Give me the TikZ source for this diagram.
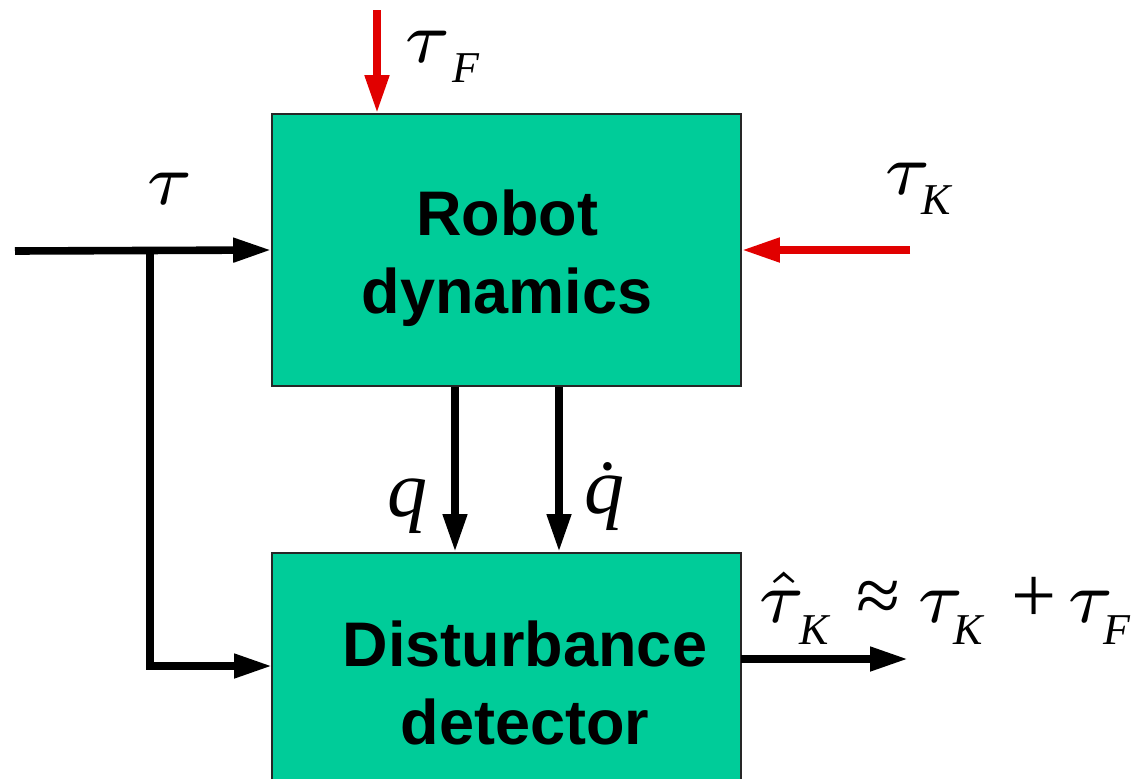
\documentclass[tikz,border=0pt]{standalone}
\usepackage{graphicx}
\usepackage{fontspec}
\setmainfont{Liberation Serif}
\newfontfamily\sansbold{Liberation Sans}[BoldFont={Liberation Sans Bold}]
\usetikzlibrary{arrows.meta}
\definecolor{boxgreen}{RGB}{0,204,153}
\definecolor{arrred}{RGB}{225,0,0}
\newcommand{\bigtau}{\scalebox{5.2}{\fontsize{7}{7}\selectfont$\tau$}}
\newcommand{\bighattau}{\scalebox{5.2}{\fontsize{7}{7}\selectfont$\hat{\tau}$}}
\newcommand{\mainsym}[1]{{\fontsize{40}{40}\selectfont\itshape #1}}
\newcommand{\subsym}[2][10pt]{\raisebox{-#1}{\fontsize{22}{22}\selectfont\itshape #2}}
\newcommand{\opsym}[1]{{\fontsize{40}{40}\selectfont #1}}
\newcommand{\slot}[2]{\makebox[#1][l]{#2}}
\tikzset{
  block/.style={draw=black!85, line width=0.8pt, fill=boxgreen, minimum width=234.5pt, inner sep=0pt},
  blocktext/.style={font=\sansbold\bfseries\fontsize{31.5}{39}\selectfont, align=center, inner sep=0pt},
  sig/.style={line width=3.8pt, -{Triangle[length=19pt,width=11.5pt]}},
  redsig/.style={sig, draw=arrred, -{Triangle[length=19pt,width=11.5pt,fill=arrred]}},
  lbl/.style={inner sep=0pt}
}
\begin{document}
\begin{tikzpicture}[x=0.5pt,y=-0.5pt]
\useasboundingbox (0,0) rectangle (1137,778);
\clip (0,0) rectangle (1137,778);
% blocks
\node[block, minimum height=136pt] (rd) at (506.5,250) {};
\node[block, minimum height=160pt, anchor=north] (dd) at (506.5,552) {};
\node[blocktext] (rdt) at (507,258) {Robot\\dynamics};
\node[blocktext] (ddt) at (525,683) {Disturbance\\detector};
% coordinates
\coordinate (tin) at (15,251);
\coordinate (br) at (150,251);
\coordinate (ddin) at (272,666);
\coordinate (qx) at (455,0);
\coordinate (qdx) at (559,0);
\coordinate (tFs) at (377,10);
\coordinate (tKs) at (910,250);
\coordinate (outend) at (908,659);
\coordinate (outst) at (741,659);
% connectors
\draw[sig] (tin) -- (rd.west);
\draw[sig] (br) |- (ddin);
\draw[sig] (rd.south -| qx) -- (dd.north -| qx);
\draw[sig] (rd.south -| qdx) -- (dd.north -| qdx);
\draw[sig] (outst) -- (outend);
\draw[redsig] (tFs) -- (rd.north -| tFs);
\draw[redsig] (tKs) -- (rd.east |- tKs);
% labels
\node[lbl, anchor=base west] (ltau) at (146,204) {\bigtau};
\node[lbl, anchor=base west] (ltF) at (404,62) {\slot{24pt}{\bigtau}\subsym{F}};
\node[lbl, anchor=base west] (ltK) at (884,194) {\slot{18.5pt}{\bigtau}\subsym{K}};
\node[lbl, anchor=base west] (lout) at (758,622) {\slot{20.5pt}{\bighattau}\slot{28.5pt}{\subsym[11pt]{K}}\slot{30.5pt}{\opsym{≈}}\slot{18pt}{\bigtau}\slot{29pt}{\subsym[11pt]{K}}\slot{28pt}{\opsym{+}}\slot{18pt}{\bigtau}\subsym[11pt]{F}};
\node[lbl, anchor=base west] (lq) at (387,516) {\mainsym{q}};
\node[lbl, anchor=base west] (lqd) at (584,513) {\mainsym{\.{q}}};
\end{tikzpicture}
\end{document}
